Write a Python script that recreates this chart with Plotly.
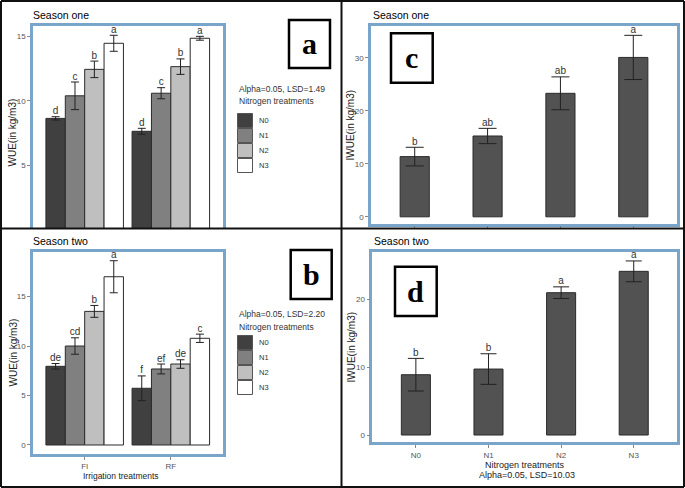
import plotly.graph_objects as go

W, H = 685, 488

# ---------------- data ----------------
irrigation = ["FI", "RF"]
nitrogen = ["N0", "N1", "N2", "N3"]

# Season one WUE (panel a)
s1_fi = [8.65, 10.40, 12.45, 14.47]
s1_fi_err = [0.13, 1.07, 0.64, 0.62]
s1_fi_let = ["d", "c", "b", "a"]
s1_rf = [7.65, 10.60, 12.66, 14.86]
s1_rf_err = [0.23, 0.43, 0.60, 0.15]
s1_rf_let = ["d", "c", "b", "a"]

# Season two WUE (panel b)
s2_fi = [7.95, 10.00, 13.50, 17.00]
s2_fi_err = [0.28, 0.83, 0.60, 1.62]
s2_fi_let = ["de", "cd", "b", "a"]
s2_rf = [5.73, 7.68, 8.18, 10.78]
s2_rf_err = [1.25, 0.50, 0.43, 0.42]
s2_rf_let = ["f", "ef", "de", "c"]

# IWUE season one (panel c) and season two (panel d)
iwue_s1 = [11.36, 15.25, 23.30, 30.07]
iwue_s1_err = [1.76, 1.44, 3.10, 4.17]
iwue_s1_let = ["b", "ab", "ab", "a"]
iwue_s2 = [8.87, 9.70, 20.93, 24.07]
iwue_s2_err = [2.40, 2.25, 0.86, 1.53]
iwue_s2_let = ["b", "b", "a", "a"]

lsd_a = "Alpha=0.05, LSD=1.49"
lsd_b = "Alpha=0.05, LSD=2.20"
lsd_d = "Alpha=0.05, LSD=10.03"
legend_title = "Nitrogen treatments"

# ---------------- styling ----------------
FONT = "Liberation Sans, Arial, sans-serif"
SERIF = "Liberation Serif, Times New Roman, serif"
fills = ["#404040", "#808080", "#bfbfbf", "#ffffff"]
BLUE = "#7aa5ca"
TXT = "#333333"
TICKC = "#555555"


def px(x):
    return x / W


def py(y):
    return 1 - y / H


fig = go.Figure()

gpos = [1, 2]
bw = 0.9 / 4


def grouped(vals_fi, err_fi, let_fi, vals_rf, err_rf, let_rf, xa, ya):
    for k, n in enumerate(nitrogen):
        off = (k - 1.5) * bw
        xs = [g + off for g in gpos]
        ys = [vals_fi[k], vals_rf[k]]
        es = [err_fi[k], err_rf[k]]
        fig.add_trace(go.Bar(
            x=xs, y=ys, width=bw, name=n, xaxis=xa, yaxis=ya, showlegend=False,
            marker=dict(color=fills[k], line=dict(color="#2b2b2b", width=1)),
            error_y=dict(type="data", array=es, color="#222222", thickness=1, width=4)))
        fig.add_trace(go.Scatter(
            x=xs, y=[ys[i] + es[i] for i in range(2)], text=[let_fi[k], let_rf[k]],
            mode="text", textposition="top center", xaxis=xa, yaxis=ya,
            textfont=dict(size=10, color=TXT, family=FONT), showlegend=False,
            cliponaxis=False, hoverinfo="skip"))


grouped(s1_fi, s1_fi_err, s1_fi_let, s1_rf, s1_rf_err, s1_rf_let, "x", "y")
grouped(s2_fi, s2_fi_err, s2_fi_let, s2_rf, s2_rf_err, s2_rf_let, "x2", "y2")


def single(vals, err, lets, xa, ya, capw):
    xs = list(range(1, len(nitrogen) + 1))
    fig.add_trace(go.Bar(
        x=xs, y=vals, width=0.4, xaxis=xa, yaxis=ya, showlegend=False,
        marker=dict(color="#525252", line=dict(color="#2b2b2b", width=1)),
        error_y=dict(type="data", array=err, color="#222222", thickness=1, width=capw)))
    fig.add_trace(go.Scatter(
        x=xs, y=[v + e for v, e in zip(vals, err)], text=lets, mode="text",
        textposition="top center", xaxis=xa, yaxis=ya, showlegend=False,
        textfont=dict(size=10, color=TXT, family=FONT), cliponaxis=False,
        hoverinfo="skip"))


single(iwue_s1, iwue_s1_err, iwue_s1_let, "x3", "y3", 9)
single(iwue_s2, iwue_s2_err, iwue_s2_let, "x4", "y4", 8)

tickfont_y = dict(size=8, color=TICKC, family=FONT)
tickfont_x = dict(size=8, color=TICKC, family=FONT)

common_y = dict(showgrid=False, zeroline=False, showline=True, mirror=True,
                linecolor=BLUE, linewidth=2.5, ticks="outside", ticklen=3,
                tickcolor="#888888", tickwidth=1, tickfont=tickfont_y)

layout = dict(
    width=W, height=H, margin=dict(l=0, r=0, t=0, b=0),
    paper_bgcolor="white", plot_bgcolor="white", barmode="overlay",
    font=dict(family=FONT, color=TXT), showlegend=False,
    # panel a
    xaxis=dict(domain=[px(33), px(222.5)], anchor="y", range=[0.4, 2.6], side="top",
               showgrid=False, zeroline=False, showline=True, mirror=False,
               linecolor=BLUE, linewidth=2.5, showticklabels=False, ticks=""),
    yaxis=dict(domain=[py(228), py(26)], anchor="x", range=[0.155, 15.81],
               tickvals=[0, 5, 10, 15], **common_y),
    # panel b
    xaxis2=dict(domain=[px(33), px(222.5)], anchor="y2", range=[0.4, 2.6],
                tickvals=gpos, ticktext=irrigation, showgrid=False, zeroline=False,
                showline=True, mirror=True, linecolor=BLUE, linewidth=2.5,
                ticks="outside", ticklen=3, tickcolor="#888888", tickfont=tickfont_x),
    yaxis2=dict(domain=[py(454), py(251.7)], anchor="x2", range=[-0.91, 19.53],
                tickvals=[0, 5, 10, 15], **common_y),
    # panel c
    xaxis3=dict(domain=[px(371), px(677)], anchor="y3", range=[0.4, 4.6],
                tickvals=[1, 2, 3, 4], showticklabels=False, showgrid=False,
                zeroline=False, showline=True, mirror=True, linecolor=BLUE,
                linewidth=2.5, ticks="outside", ticklen=3, tickcolor="#888888"),
    yaxis3=dict(domain=[py(223.5), py(26)], anchor="x3", range=[-1.26, 36.0],
                tickvals=[0, 10, 20, 30], **common_y),
    # panel d
    xaxis4=dict(domain=[px(372.3), px(677.3)], anchor="y4", range=[0.4, 4.6],
                tickvals=[1, 2, 3, 4], ticktext=nitrogen, showgrid=False,
                zeroline=False, showline=True, mirror=True, linecolor=BLUE,
                linewidth=2.5, ticks="outside", ticklen=3, tickcolor="#888888",
                tickfont=tickfont_x),
    yaxis4=dict(domain=[py(442.3), py(252.3)], anchor="x4", range=[-1.07, 26.87],
                tickvals=[0, 10, 20], **common_y),
)
fig.update_layout(**layout)

ann = []
shapes = []


def text(x, y, s, size, anchor="left", angle=0, color="black", fam=FONT):
    ann.append(dict(x=px(x), y=py(y), xref="paper", yref="paper", text=s,
                    showarrow=False, xanchor=anchor, yanchor="middle", textangle=angle,
                    font=dict(size=size, color=color, family=fam)))


text(31, 15, "Season one", 10.5)
text(31, 240.5, "Season two", 10.5)
text(371, 15, "Season one", 10.5)
text(372, 240.5, "Season two", 10.5)
text(12.5, 133, "WUE(in kg/m3)", 10, anchor="center", angle=-90, color="#222222")
text(12.5, 353, "WUE(in kg/m3)", 10, anchor="center", angle=-90, color="#222222")
text(350.5, 125, "IWUE(in kg/m3)", 10, anchor="center", angle=-90, color="#222222")
text(350.5, 347, "IWUE(in kg/m3)", 10, anchor="center", angle=-90, color="#222222")
text(121, 476, "Irrigation treatments", 8.5, anchor="center", color="#222222")
text(525, 464.5, "Nitrogen treatments", 9, anchor="center", color="#222222")
text(527, 475, lsd_d, 9, anchor="center", color="#222222")


# legends for panels a and b (fill key of nitrogen treatments)
def key(x0, y_title, y_sw, lsd):
    text(x0 - 1, y_title, lsd, 8.5, color=TXT)
    text(x0 - 1, y_title + 12.5, legend_title, 8.5, color=TXT)
    for k, n in enumerate(nitrogen):
        top = y_sw + 15 * k
        shapes.append(dict(type="rect", xref="paper", yref="paper",
                           x0=px(x0), x1=px(x0 + 15), y0=py(top + 14.5), y1=py(top + 0.5),
                           fillcolor=fills[k], line=dict(color="#555555", width=1)))
        text(x0 + 19.5, top + 7.5, n, 7.5, color=TXT)


key(237.5, 89, 113, lsd_a)
key(237.5, 314, 335, lsd_b)

boxes = [("a", 289, 20, 330, 68), ("b", 290.7, 250, 331.7, 299),
         ("c", 391, 33.3, 432.7, 82.7), ("d", 395, 266.7, 436.7, 316)]
for lab, x0, y0, x1, y1 in boxes:
    shapes.append(dict(type="rect", xref="paper", yref="paper", x0=px(x0), x1=px(x1),
                       y0=py(y1), y1=py(y0), fillcolor="white",
                       line=dict(color="black", width=2.5), layer="above"))
    ann.append(dict(x=px((x0 + x1) / 2), y=py((y0 + y1) / 2), xref="paper", yref="paper",
                    text="<b>" + lab + "</b>", showarrow=False, xanchor="center",
                    yanchor="middle", font=dict(size=30, color="black", family=SERIF)))

# black panel frames
for (x0, y0, x1, y1) in [(1, 1, 684, 1), (1, 487, 684, 487), (1, 1, 1, 487),
                         (684, 1, 684, 487), (341.5, 0, 341.5, 488), (0, 228.5, 685, 228.5)]:
    shapes.append(dict(type="line", xref="paper", yref="paper", x0=px(x0), x1=px(x1),
                       y0=py(y0), y1=py(y1), line=dict(color="#111111", width=2),
                       layer="above"))

fig.update_layout(annotations=ann, shapes=shapes)
fig.write_html("out.html", config={"displayModeBar": False},
               post_script="document.body.style.margin='0px';document.body.style.overflow='hidden';")
